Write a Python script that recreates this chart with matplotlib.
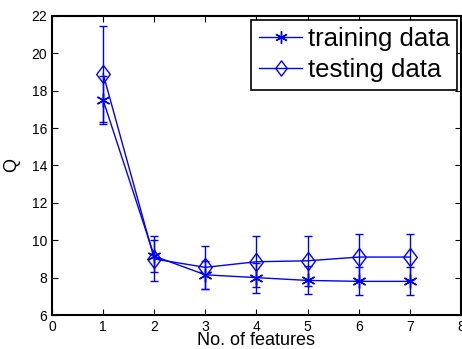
import numpy as np
import matplotlib.pyplot as plt
from matplotlib.lines import Line2D
from matplotlib.path import Path

plt.rcParams['font.family'] = ['Liberation Sans', 'DejaVu Sans']

# number of features
n_feat = [1, 2, 3, 4, 5, 6, 7]
# training data Q and error
train_q = [17.5, 9.15, 8.15, 8.0, 7.85, 7.8, 7.8]
train_err = [1.3, 0.85, 0.75, 0.8, 0.75, 0.75, 0.75]
# testing data Q and error
test_q = [18.9, 9.0, 8.55, 8.85, 8.9, 9.1, 9.1]
test_err = [2.55, 1.2, 1.15, 1.35, 1.35, 1.25, 1.25]

# matlab style markers
star = (6, 2, 0)
diamond = Path([(0, 1), (0.75, 0), (0, -1), (-0.75, 0), (0, 1)],
               [Path.MOVETO, Path.LINETO, Path.LINETO, Path.LINETO, Path.CLOSEPOLY])

fig = plt.figure(figsize=(4.62, 3.49), dpi=100)
ax = fig.add_axes([0.1126, 0.0974, 0.885, 0.857])

blue = '#0000ff'
ax.errorbar(n_feat, train_q, yerr=train_err, color=blue, marker=star,
            markersize=10, markeredgewidth=1.0,
            linewidth=1.0, capsize=3)
ax.errorbar(n_feat, test_q, yerr=test_err, color=blue, marker=diamond,
            markersize=13, markerfacecolor='none', markeredgewidth=1.0,
            linewidth=1.0, capsize=3)

ax.set_xlim(0, 8)
ax.set_ylim(6, 22)
ax.set_xticks(range(0, 9))
ax.set_yticks(range(6, 23, 2))
ax.tick_params(direction='in', top=True, right=True, labelsize=10, length=4)
for s in ax.spines.values():
    s.set_linewidth(1.5)

ax.set_xlabel('No. of features', fontsize=13, labelpad=-1)
ax.set_ylabel('Q', fontsize=13, labelpad=8)

handles = [
    Line2D([], [], color=blue, marker=star, markersize=9, linewidth=1.0),
    Line2D([], [], color=blue, marker=diamond, markersize=11,
           markerfacecolor='none', linewidth=1.0),
]
leg = ax.legend(handles, ['training data', 'testing data'], loc='upper right',
                fontsize=18.5, fancybox=False, framealpha=1,
                edgecolor='black', borderpad=0.3, labelspacing=0.25,
                handlelength=1.7, handletextpad=0.2, borderaxespad=0.15)
leg.get_frame().set_linewidth(1.2)

fig.savefig('out.png', dpi=100)
